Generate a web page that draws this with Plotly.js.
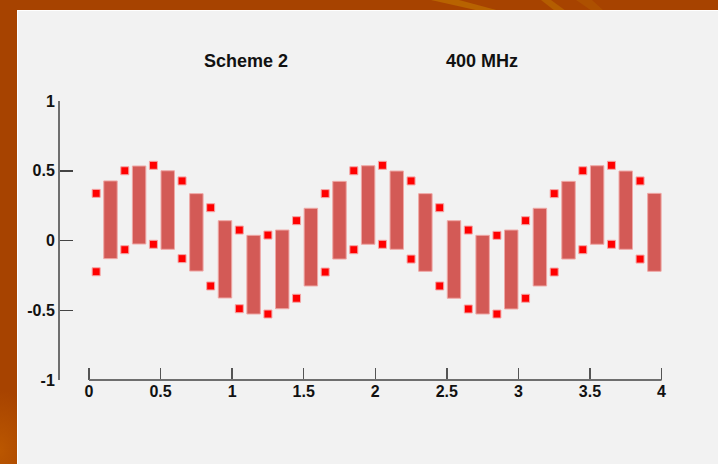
<!DOCTYPE html>
<html>
<head>
<meta charset="utf-8">
<script src="https://cdn.plot.ly/plotly-3.0.1.min.js"></script>
<style>
  html, body { margin: 0; padding: 0; width: 718px; height: 464px; overflow: hidden; }
  body {
    background:
      radial-gradient(ellipse 40px 60px at 0px 450px, rgba(200,100,0,0.6), rgba(0,0,0,0)),
      #a74300;
  }
  .streak { position: absolute; left: 0; top: 0; width: 718px; height: 11px; }
  #s1 { background: #b86300; clip-path: polygon(431px 0, 459px 0, 500px 11px, 480px 11px); }
  #s2 { background: #b45d00; clip-path: polygon(541px 0, 551px 0, 566px 11px, 555px 11px); }
  #s3 { background: #ad5000; clip-path: polygon(576px 0, 592px 0, 604px 11px, 592px 11px); }
  #chart {
    position: absolute; left: 17px; top: 10px;
    width: 700px; height: 453px;
    border-left: 1px solid #ffffff; border-top: 1px solid #ffffff;
    background: #f2f2f2;
  }
</style>
</head>
<body>
<div class="streak" id="s1"></div>
<div class="streak" id="s2"></div>
<div class="streak" id="s3"></div>
<div id="chart"></div>
<script>
// Floating bars: centre positions with upper and lower ends
const barX    = [0.15, 0.35, 0.55, 0.75, 0.95, 1.15, 1.35, 1.55, 1.75, 1.95,
                 2.15, 2.35, 2.55, 2.75, 2.95, 3.15, 3.35, 3.55, 3.75, 3.95];
const barHigh = [0.427, 0.534, 0.500, 0.336, 0.142, 0.037, 0.075, 0.231, 0.424, 0.536,
                 0.498, 0.336, 0.142, 0.037, 0.075, 0.231, 0.424, 0.536, 0.498, 0.338];
const barLow  = [-0.130, -0.025, -0.063, -0.219, -0.412, -0.527, -0.489, -0.326, -0.133, -0.027,
                 -0.063, -0.221, -0.414, -0.527, -0.491, -0.326, -0.133, -0.027, -0.063, -0.221];

// Point pairs between the bars
const ptX     = [0.05, 0.25, 0.45, 0.65, 0.85, 1.05, 1.25, 1.45, 1.65, 1.85,
                 2.05, 2.25, 2.45, 2.65, 2.85, 3.05, 3.25, 3.45, 3.65, 3.85];
const ptHigh  = [0.338, 0.500, 0.539, 0.427, 0.235, 0.075, 0.039, 0.142, 0.336, 0.500,
                 0.539, 0.427, 0.235, 0.075, 0.037, 0.142, 0.336, 0.500, 0.539, 0.427];
const ptLow   = [-0.224, -0.066, -0.027, -0.130, -0.326, -0.489, -0.527, -0.414, -0.226, -0.066,
                 -0.027, -0.133, -0.326, -0.491, -0.527, -0.414, -0.226, -0.066, -0.027, -0.133];

// Axis ticks
const xTickVals = [0, 0.5, 1, 1.5, 2, 2.5, 3, 3.5, 4];
const xTickText = ['0', '0.5', '1', '1.5', '2', '2.5', '3', '3.5', '4'];
const yTickVals = [-1, -0.5, 0, 0.5, 1];
const yTickText = ['-1', '-0.5', '0', '0.5', '1'];

const titleLeft  = 'Scheme 2';
const titleRight = '400 MHz';

const barTrace = {
  type: 'bar',
  x: barX,
  base: barLow,
  y: barHigh.map((h, i) => h - barLow[i]),
  width: 0.094,
  marker: { color: '#d35a56', line: { color: '#efa8a6', width: 1 } },
  hoverinfo: 'skip',
  showlegend: false
};

const pointStyle = { symbol: 'square', size: 8, color: '#ff0000', line: { color: '#f4a6a6', width: 1 } };

const highTrace = {
  type: 'scatter', mode: 'markers', x: ptX, y: ptHigh,
  marker: pointStyle, showlegend: false, hoverinfo: 'skip'
};
const lowTrace = {
  type: 'scatter', mode: 'markers', x: ptX, y: ptLow,
  marker: pointStyle, showlegend: false, hoverinfo: 'skip'
};

const tickFont = { family: 'Liberation Sans, Arial, sans-serif', size: 16, color: '#111111', weight: 700 };
const titleFont = { family: 'Liberation Sans, Arial, sans-serif', size: 18, color: '#111111', weight: 700 };

const layout = {
  width: 700, height: 453,
  margin: { l: 42, r: 43, t: 90, b: 84 },
  paper_bgcolor: '#f2f2f2',
  plot_bgcolor: '#f2f2f2',
  showlegend: false,
  xaxis: {
    range: [-0.2027, 4.094],
    tickvals: xTickVals, ticktext: xTickText,
    ticks: 'inside', ticklen: 12, tickwidth: 1.5, tickcolor: '#555555',
    showline: false, showgrid: false, zeroline: false,
    tickfont: tickFont, fixedrange: true
  },
  yaxis: {
    range: [-1, 1],
    tickvals: yTickVals, ticktext: yTickText,
    ticks: 'inside', ticklen: 13, tickwidth: 1.5, tickcolor: '#444444',
    showline: true, linecolor: '#6e6e6e', linewidth: 2,
    showgrid: false, zeroline: false,
    tickfont: tickFont, fixedrange: true
  },
  shapes: [
    // x axis baseline spanning only the labelled range
    { type: 'line', xref: 'x', yref: 'paper', x0: 0, x1: 4, y0: 0, y1: 0,
      line: { color: '#6e6e6e', width: 2 } }
  ],
  annotations: [
    { text: titleLeft, xref: 'paper', yref: 'paper', x: 0.3029, y: 1.142,
      xanchor: 'center', yanchor: 'middle', showarrow: false, font: titleFont },
    { text: titleRight, xref: 'paper', yref: 'paper', x: 0.6862, y: 1.142,
      xanchor: 'center', yanchor: 'middle', showarrow: false, font: titleFont }
  ]
};

Plotly.newPlot('chart', [barTrace, highTrace, lowTrace], layout, { staticPlot: true, displayModeBar: false });
</script>
</body>
</html>
